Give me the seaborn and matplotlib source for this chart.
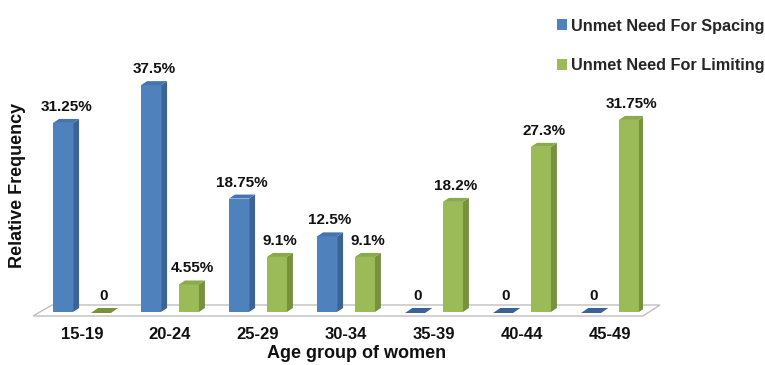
import matplotlib
matplotlib.use("Agg")
import matplotlib.pyplot as plt
from matplotlib.patches import Polygon, Patch
import seaborn as sns
import pandas as pd

age_groups = ["15-19", "20-24", "25-29", "30-34", "35-39", "40-44", "45-49"]
spacing = [31.25, 37.5, 18.75, 12.5, 0, 0, 0]
limiting = [0, 4.55, 9.1, 9.1, 18.2, 27.3, 31.75]
series = ["Unmet Need For Spacing", "Unmet Need For Limiting"]

front_colors = ["#4F81BD", "#9BBB59"]
side_colors = ["#3A6396", "#76923C"]
top_colors = ["#4574AE", "#8AAA4C"]

df = pd.DataFrame({
    "age": age_groups * 2,
    "value": spacing + limiting,
    "series": [series[0]] * len(age_groups) + [series[1]] * len(age_groups),
})

sns.set_style("white")
plt.rcParams["font.family"] = ["Liberation Sans", "DejaVu Sans"]
plt.rcParams["font.weight"] = "bold"

W, H = 765, 365
fig = plt.figure(figsize=(W / 100, H / 100), dpi=100)
ax = fig.add_axes([33 / W, 1 - 316 / H, 610 / W, 256 / H])

sns.barplot(data=df, x="age", y="value", hue="series", palette=front_colors,
            width=0.86, ax=ax, legend=False, saturation=1, linewidth=0)

px_per_x = 88.0
px_per_y = 6.05
ax.set_xlim(-49 / px_per_x, 561 / px_per_x)
ax.set_ylim(-4 / px_per_y, 252 / px_per_y)

bar_w = 20 / px_per_x
dx = 6 / px_per_x
dy = 4 / px_per_y

# floor
y0 = -4 / px_per_y
x0, x1 = ax.get_xlim()
floor = Polygon([(x0, y0), (x1, y0), (x1 + 17 / px_per_x, y0 + 11 / px_per_y),
                 (x0 + 19 / px_per_x, y0 + 11 / px_per_y)],
                closed=True, facecolor="white", edgecolor="#BFBFBF", lw=1,
                zorder=0.5, clip_on=False)
ax.add_patch(floor)

for k, cont in enumerate(ax.containers):
    for rect in cont:
        cx = rect.get_x() + rect.get_width() / 2
        v = rect.get_height()
        left = cx - bar_w / 2
        right = cx + bar_w / 2
        rect.set_x(left)
        rect.set_width(bar_w)
        rect.set_zorder(2)
        rect.set_linewidth(0)
        if v > 0:
            side = Polygon([(right, 0), (right + dx, dy), (right + dx, v + dy), (right, v)],
                           closed=True, facecolor=side_colors[k], edgecolor="none", zorder=2)
            ax.add_patch(side)
            top = Polygon([(left, v), (right, v), (right + dx, v + dy), (left + dx, v + dy)],
                          closed=True, facecolor=top_colors[k], edgecolor="none", zorder=2)
            ax.add_patch(top)
        else:
            flat = Polygon([(left, -1 / px_per_y), (right, -1 / px_per_y),
                            (right + dx * 1.2, 4 / px_per_y), (left + dx * 1.2, 4 / px_per_y)],
                           closed=True, facecolor=side_colors[k], edgecolor="none", zorder=2)
            ax.add_patch(flat)
        label = f"{v:g}%" if v > 0 else "0"
        ax.text(cx + dx / 2, v + 16 / px_per_y, label, ha="center", va="center",
                fontsize=11, fontweight="bold", color="#111111", zorder=3)

for s in ax.spines.values():
    s.set_visible(False)
ax.set_yticks([])
ax.set_xlabel("")
ax.set_ylabel("")
ax.tick_params(axis="x", length=0, pad=8)
for t in ax.get_xticklabels():
    t.set_fontsize(12)
    t.set_fontweight("bold")
    t.set_color("#111111")

fig.text(18 / W, 1 - 185 / H, "Relative Frequency", rotation=90, ha="center",
         va="center", fontsize=13, fontweight="bold", color="#111111")
fig.text(357 / W, 1 - 354 / H, "Age group of women", ha="center", va="center",
         fontsize=13, fontweight="bold", color="#111111")

handles = [Patch(facecolor=front_colors[i], edgecolor="none", label=series[i]) for i in range(2)]
fig.legend(handles=handles, loc="upper left", bbox_to_anchor=(542 / W, 1 - 4 / H),
           frameon=False, handlelength=0.65, handleheight=0.65, handletextpad=0.25,
           labelspacing=1.5, prop={"size": 11.7, "weight": "bold"})

fig.savefig("out.png", dpi=100)
